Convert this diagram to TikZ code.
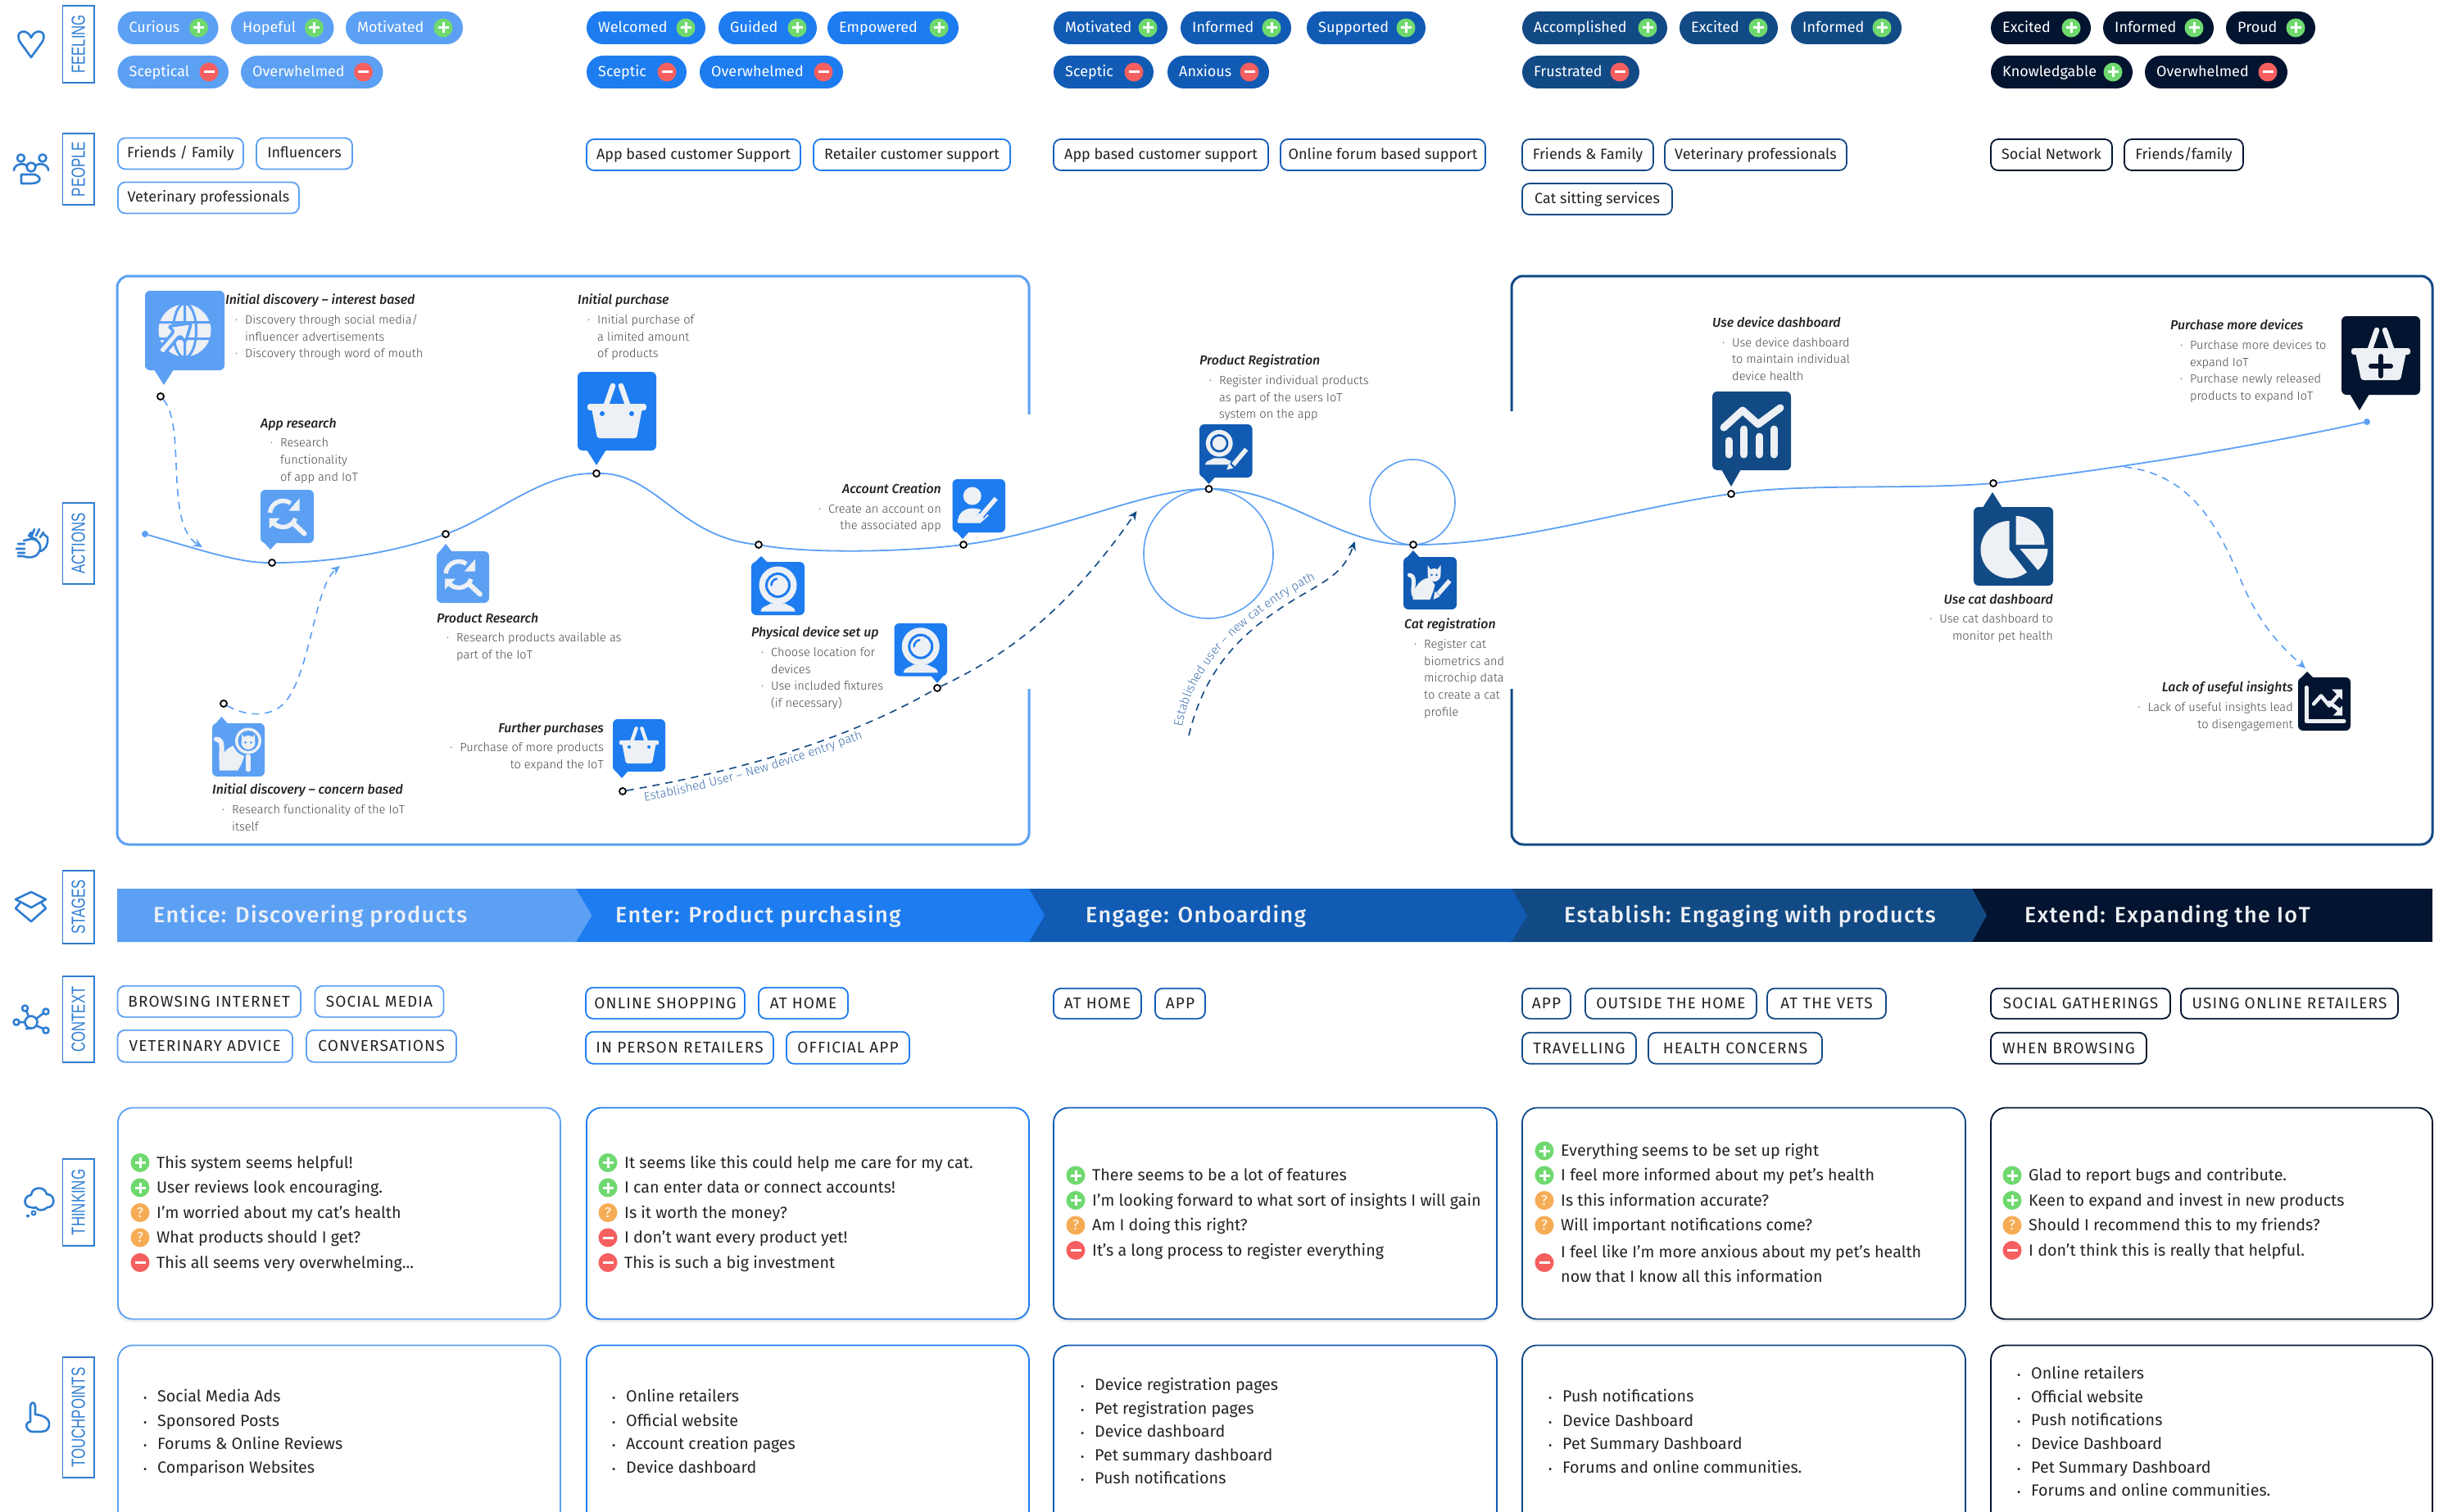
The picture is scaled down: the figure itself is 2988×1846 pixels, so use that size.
\documentclass[tikz,border=0pt]{standalone}
\usepackage{fontspec}
\usepackage{graphicx}
\setmainfont{Fira Sans}
\newfontfamily\lsans{Liberation Sans}
\newfontfamily\flight{Fira Sans Light}
\newfontfamily\fmedi{Fira Sans Medium Italic}
\newfontfamily\fmed{Fira Sans Medium}
\usetikzlibrary{arrows.meta,decorations.text,decorations.markings}
\definecolor{ca}{HTML}{5CA0F4}
\definecolor{cb}{HTML}{1D7CF0}
\definecolor{cc}{HTML}{115BB5}
\definecolor{cd}{HTML}{124A85}
\definecolor{ce}{HTML}{02142F}
\definecolor{ic}{HTML}{EDF0F4}
\definecolor{side}{HTML}{2F7DD1}
\definecolor{gp}{HTML}{6FD96F}
\definecolor{rm}{HTML}{F55F5F}
\definecolor{oq}{HTML}{F5AC55}
\definecolor{ink}{HTML}{222426}
\definecolor{body}{HTML}{46494C}
\definecolor{lbl}{HTML}{3F70AE}
\tikzset{
 fpill/.style={rectangle,rounded corners=20pt,minimum height=40pt,inner sep=0pt},
 ptext/.style={inner sep=0pt,text=white,font=\fontsize{18}{20}\selectfont,text height=15pt,text depth=3.5pt},
 signc/.style={circle,minimum size=23pt,inner sep=0pt},
 ptag/.style={rectangle,rounded corners=9pt,line width=1.8pt,fill=white,inner sep=0pt,text=ink,font=\fontsize{18}{20}\selectfont,text height=14pt,text depth=3.5pt},
 ctag/.style={ptag,font=\addfontfeature{LetterSpace=6}\fontsize{19}{20}\selectfont,text height=13pt,text depth=0pt},
 sidebox/.style={rectangle,draw=side,line width=1.8pt,minimum height=38.5pt,inner sep=0pt,text=side,font=\lsans\fontsize{16.8}{18}\selectfont},
 sico/.style={draw=side,line width=2.6pt,line cap=round,line join=round},
 iconb/.style={rectangle,rounded corners=6pt,inner sep=0pt},
 jt/.style={anchor=north west,align=left,inner sep=0pt,text=body,font=\flight\fontsize{14.6}{20.7}\selectfont},
 jr/.style={jt,anchor=north east,align=right},
 thk/.style={inner sep=0pt,anchor=west,text=ink,font=\fontsize{19.7}{30.7}\selectfont,text height=16pt,text depth=3pt},
 thkm/.style={inner sep=0pt,anchor=west,text=ink,font=\fontsize{19.7}{30.7}\selectfont,align=left},
 tbox/.style={rectangle,rounded corners=18pt,line width=1.8pt,fill=white,inner sep=0pt,preaction={draw=black!7,line width=2.5pt,transform canvas={yshift=-2.5pt}}},
 dotn/.style={circle,draw=black,fill=white,line width=1.8pt,minimum size=8pt,inner sep=0pt},
 enddot/.style={circle,fill=ca,minimum size=8pt,inner sep=0pt},
 dashl/.style={draw=ca,line width=1.6pt,dash pattern=on 9pt off 7pt},
 dashd/.style={draw=cd,line width=1.6pt,dash pattern=on 9pt off 7pt},
 tip/.style={-{Stealth[length=11pt,width=10pt]}},
 stg/.style={anchor=west,inner sep=0pt,text=ic,font=\fmed\addfontfeature{LetterSpace=5}\fontsize{27}{28}\selectfont,text height=21pt,text depth=3pt},
}
\newcommand\tii[1]{{\fmedi\color{ink}\fontsize{15.9}{20.7}\selectfont #1}}
\newcommand\BL[1]{\makebox[24pt][r]{·\hspace{9pt}}#1}
\newcommand\CL[1]{\hspace*{24pt}#1}
% sign marks
\newcommand\signp[3]{\node[signc,fill=gp] (#1) at (#2,#3) {};\draw[white,line width=3pt] ([xshift=-6.5pt]#1.center)--([xshift=6.5pt]#1.center) ([yshift=-6.5pt]#1.center)--([yshift=6.5pt]#1.center);}
\newcommand\signm[3]{\node[signc,fill=rm] (#1) at (#2,#3) {};\draw[white,line width=3pt] ([xshift=-6.5pt]#1.center)--([xshift=6.5pt]#1.center);}
\newcommand\signq[3]{\node[signc,fill=oq,text=white,font=\fontsize{17}{17}\selectfont] (#1) at (#2,#3) {?};}
\newcommand\feel[7]{\pgfmathsetmacro\pw{#3-#2}\pgfmathsetmacro\pc{(#2+#3)/2}%
 \node[fpill,fill=#5,minimum width=\pw pt] (#1) at (\pc,#4) {};
 \node[ptext,anchor=west] (#1t) at (#2+14,#4) {#6};
 \csname sign#7\endcsname{#1s}{#3-24}{#4}}
\newcommand\tagp[7]{\pgfmathsetmacro\pw{#3-#2}\pgfmathsetmacro\ph{#5-#4}\pgfmathsetmacro\pc{(#2+#3)/2}\pgfmathsetmacro\pd{(#4+#5)/2}%
 \node[ptag,draw=#6,minimum width=\pw pt,minimum height=\ph pt] (#1) at (\pc,\pd) {#7};}
\newcommand\tagc[7]{\pgfmathsetmacro\pw{#3-#2}\pgfmathsetmacro\ph{#5-#4}\pgfmathsetmacro\pc{(#2+#3)/2}\pgfmathsetmacro\pd{(#4+#5)/2+0.7}%
 \node[ctag,draw=#6,minimum width=\pw pt,minimum height=\ph pt] (#1) at (\pc,\pd) {#7};}
\newcommand\sidel[4]{\pgfmathsetmacro\pw{#3-#2}\pgfmathsetmacro\pd{(#2+#3)/2}%
 \node[sidebox,rotate=90,minimum width=\pw pt] (#1) at (95.7,\pd) {\scalebox{1}[1.38]{#4}};}
\newcommand\tkl[5]{\csname sign#4\endcsname{#1s}{#2}{#3}\node[thk] (#1) at (#2+20,#3) {#5};}
\newcommand\tpt[4]{\node[thk] (#1) at (#2-17,#3) {\makebox[17pt][l]{\fontsize{13}{13}\selectfont •}#4};}
\newcommand\bubble[8]{% name x0 y0 x1 y1 colour tipx tipy ; tail base half-width 1/8 of width
 \pgfmathsetmacro\pw{#4-#2}\pgfmathsetmacro\ph{#5-#3}\pgfmathsetmacro\pc{(#2+#4)/2}\pgfmathsetmacro\pd{(#3+#5)/2}\pgfmathsetmacro\hw{\pw/8}%
 \pgfmathsetmacro\by{#8<#3?#3+1:#5-1}%
 \fill[#6] (#7-\hw,\by)--(#7,#8)--(#7+\hw,\by)--cycle;
 \node[iconb,fill=#6,minimum width=\pw pt,minimum height=\ph pt] (#1) at (\pc,\pd) {};}
% ----- glyphs: #1 centre node, #2 scale, #3 box colour
\newcommand\icbasket[3]{\begin{scope}[shift={(#1)},scale=#2]
 \draw[ic,line width=#2*6.5pt,line cap=round] (-13,-8)--(-5,-31) (13,-8)--(5,-31);
 \fill[ic,rounded corners=#2*3pt] (-31,-4)--(31,-4)--(24,33)--(-24,33)--cycle;
 \fill[ic,rounded corners=#2*3pt] (-36,-9) rectangle (36,-1);
 \fill[#3] (-18,3) circle[radius=3] (18,3) circle[radius=3];
 \end{scope}}
\newcommand\icplusbasket[3]{\begin{scope}[shift={(#1)},scale=#2]
 \draw[ic,line width=#2*6.5pt,line cap=round] (-13,-8)--(-5,-31) (13,-8)--(5,-31);
 \fill[ic,rounded corners=#2*3pt] (-31,-4)--(31,-4)--(24,30)--(-24,30)--cycle;
 \fill[ic,rounded corners=#2*3pt] (-36,-9) rectangle (36,-1);
 \draw[#3,line width=#2*6pt,line cap=round] (0,1)--(0,25) (-12,13)--(12,13);
 \end{scope}}
\newcommand\icglobe[3]{\begin{scope}[shift={(#1)},scale=#2]
 \fill[ic] (0,0) circle[radius=32];
 \draw[#3,line width=#2*3pt] (0,0) ellipse[x radius=14,y radius=33] (0,-33)--(0,33) (-33,-10)--(33,-10) (-33,10)--(33,10);
 \fill[ic,draw=#3,line width=#2*3.5pt,rounded corners=#2*3pt,line join=round] (8,-9)--(1,14)--(-6,6)--(-26,30)--(-33,24)--(-13,1)--(-20,-5)--cycle;
 \end{scope}}
\newcommand\icrefresh[3]{\begin{scope}[shift={(#1)},scale=#2]
 \draw[ic,line width=#2*5.5pt] plot[domain=185:305,samples=12] ({-5+16*cos(\x)},{-3+16*sin(\x)});
 \draw[ic,line width=#2*5.5pt] plot[domain=20:150,samples=12] ({-5+16*cos(\x)},{-3+16*sin(\x)});
 \fill[ic] (15,-22)--(15,-7)--(2,-7)--cycle;
 \fill[ic] (-22,2)--(-22,15)--(-9,2)--cycle;
 \draw[ic,line width=#2*6pt,line cap=round] (8,9)--(21,21);
 \end{scope}}
\newcommand\iccam[3]{\begin{scope}[shift={(#1)},scale=#2]
 \fill[ic] (-21,28) .. controls (-21,22) and (-14,22) .. (-8,18) -- (8,18) .. controls (14,22) and (21,22) .. (21,28) -- cycle;
 \fill[ic] (0,-4) circle[radius=23];
 \draw[#3,line width=#2*3pt] (0,-4) circle[radius=14];
 \draw[#3,line width=#2*2.5pt,line cap=round] plot[domain=180:260,samples=8] ({8*cos(\x)},{-4+8*sin(\x)});
 \end{scope}}
\newcommand\penat[5]{\draw[#5,line width=9pt,line cap=round] (#1,#2)--(#3,#4);
 \draw[ic,line width=5.5pt] (#1,#2)--(#3,#4);}
\newcommand\icperson[3]{\begin{scope}[shift={(#1)},scale=#2]
 \fill[ic] (-8,-12) circle[radius=11];
 \fill[ic] (-26,21) .. controls (-26,8) and (-16,3) .. (-8,3) .. controls (0,3) and (8,6) .. (12,12) -- (2,21) -- cycle;
 \penat{21}{-9}{3}{12}{#3}
 \fill[ic] (0,9)--(6,15)--(-2,21)--(-4,18)--cycle;
 \end{scope}}
\newcommand\iccamreg[3]{\begin{scope}[shift={(#1)},scale=#2]
 \begin{scope}[shift={(-8,-6)},scale=.82]
 \fill[ic] (-21,28) .. controls (-21,22) and (-14,22) .. (-8,18) -- (8,18) .. controls (14,22) and (21,22) .. (21,28) -- cycle;
 \fill[ic] (0,-4) circle[radius=20];
 \draw[#3,line width=2.6pt] (0,-4) circle[radius=12];
 \end{scope}
 \penat{25}{-2}{9}{17}{#3}
 \fill[ic] (4,15)--(9,21)--(1,23)--cycle;
 \end{scope}}
\newcommand\iccatlook[3]{\begin{scope}[shift={(#1)},scale=#2]
 \draw[ic,line width=6pt,line cap=round] (-27,-13) .. controls (-15,-13) and (-24,8) .. (-19,20);
 \fill[ic] (-23,25) .. controls (-26,8) and (-12,-8) .. (3,-6) -- (8,5) .. controls (5,14) and (3,20) .. (-1,25) -- cycle;
 \fill[#3] (12,-11) circle[radius=19];
 \fill[ic] (12,-11) circle[radius=16];
 \fill[#3] (12,-11) circle[radius=12.5];
 \fill[ic] (12,-9) circle[radius=8.5];
 \fill[ic] (4,-19)--(9,-13)--(4,-11)--cycle (20,-19)--(15,-13)--(20,-11)--cycle;
 \fill[#3] (8.5,-9) circle[radius=1.6] (15.5,-9) circle[radius=1.6];
 \draw[ic,line width=6pt,line cap=round] (12,8)--(12,24);
 \end{scope}}
\newcommand\iccatreg[3]{\begin{scope}[shift={(#1)},scale=#2]
 \draw[ic,line width=5pt,line cap=round] (-25,-10) .. controls (-15,-8) and (-24,8) .. (-19,16);
 \fill[ic] (-21,20) .. controls (-22,6) and (-10,-8) .. (0,-6) -- (6,2) .. controls (4,10) and (2,15) .. (0,20) -- cycle;
 \fill[ic] (5,-10) circle[radius=8];
 \fill[ic] (-3,-22)--(2,-15)--(-3,-12)--cycle (13,-22)--(8,-15)--(13,-12)--cycle;
 \fill[#3] (2,-10) circle[radius=1.4] (8,-10) circle[radius=1.4];
 \penat{24}{-3}{10}{13}{#3}
 \fill[ic] (6,10)--(12,16)--(4,20)--cycle;
 \end{scope}}
\newcommand\icbars[3]{\begin{scope}[shift={(#1)},scale=#2]
 \draw[ic,line width=9pt,line cap=round,line join=round] (-34,-4)--(-11,-25)--(8,-8)--(35,-28);
 \draw[ic,line width=9pt,line cap=round] (-28,12)--(-28,29) (-9.5,-2)--(-9.5,29) (9.5,7)--(9.5,29) (27,-2)--(27,29);
 \end{scope}}
\newcommand\icpie[3]{\begin{scope}[shift={(#1)},scale=#2]
 \fill[ic] (-5,4)--plot[domain=-90:-308,samples=36] ({-5+35*cos(\x)},{4+35*sin(\x)})--cycle;
 \fill[ic] (3,-2)--plot[domain=-90:0,samples=16] ({3+35*cos(\x)},{-2+35*sin(\x)})--cycle;
 \fill[ic] (8,3)--plot[domain=0:50,samples=10] ({8+34*cos(\x)},{3+34*sin(\x)})--cycle;
 \end{scope}}
\newcommand\icdown[3]{\begin{scope}[shift={(#1)},scale=#2]
 \draw[ic,line width=5pt,line cap=round,line join=round] (-22,-20)--(-22,21)--(24,21);
 \draw[ic,line width=4.5pt,line cap=round,line join=round] (-13,0)--(-4,-10)--(6,2)--(19,-13);
 \draw[ic,line width=4.5pt,line cap=round] (6,-2)--(19,8);
 \fill[ic] (9,-18)--(22,-18)--(22,-5)--cycle (22,2)--(22,14)--(11,14)--cycle;
 \end{scope}}
\begin{document}
\begin{tikzpicture}[x=1pt,y=-1pt]
\useasboundingbox (0,0) rectangle (2988,1846);
% side labels
\sidel{sf}{7}{101}{FEELING}
\sidel{sp}{163}{250}{PEOPLE}
\sidel{sa}{614}{713}{ACTIONS}
\sidel{ss}{1063}{1152}{STAGES}
\sidel{sc}{1192}{1297}{CONTEXT}
\sidel{st}{1415}{1521}{THINKING}
\sidel{su}{1657}{1804}{TOUCHPOINTS}
% side icons
\draw[sico] (38,70)--(25,52) .. controls (16,38) and (33,33) .. (38,46) .. controls (43,33) and (60,38) .. (51,52)--cycle;
\draw[sico] (25.5,193) circle[radius=4.5] (52,193) circle[radius=4.5] (38,204) circle[radius=5.5];
\draw[sico] (17,208) .. controls (17,200) and (30,198) .. (33,203) (59,208) .. controls (59,200) and (46,198) .. (43,203);
\draw[sico] (26,213)--(26,224)--(38,224) .. controls (50,224) and (52,216) .. (42,213)--cycle;
\draw[sico] (29,660)--(38,658) .. controls (48,658) and (52,668) .. (47,675) .. controls (43,682) and (34,681) .. (28,679)--(22,679) (22,664)--(30,664) (20,670)--(30,670) (22,675)--(30,675);
\draw[sico] (35,654)--(38,650) (38,656)--(42,646) (44,654)--(48,646) (49,656)--(53,650) (53,652)--(58,656) .. controls (59,665) and (56,670) .. (50,673) (35,654)--(45,659);
\draw[sico] (38,1089)--(56,1098)--(38,1108)--(19,1098)--cycle (24,1103)--(19,1109)--(38,1125)--(56,1109)--(51,1103);
\draw[sico] (38,1248) circle[radius=7.5] (30.5,1231) circle[radius=3.5] (56,1235) circle[radius=3.5] (20,1248) circle[radius=3.5] (56,1258) circle[radius=3.5];
\draw[sico] (32,1234)--(35,1241) (53,1237)--(44,1244) (24,1248)--(30,1248) (53,1256)--(44,1252) (32,1256)--(38,1255);
\draw[sico] (38,1474) .. controls (28,1474) and (28,1460) .. (38,1459) .. controls (39,1448) and (55,1448) .. (57,1458) .. controls (68,1458) and (68,1474) .. (58,1474) .. controls (53,1479) and (45,1478) .. (44,1474) .. controls (42,1475) and (40,1475) .. (38,1474)--cycle;
\draw[side,line width=2pt] (41,1481) circle[radius=2.4];
\fill[side] (34,1484.5) circle[radius=2];
\draw[sico] (37,1736)--(37,1717) .. controls (37,1711) and (43,1711) .. (43,1717)--(43,1727) .. controls (48,1727) and (60,1730) .. (60,1738) .. controls (60,1748) and (54,1748) .. (46,1748)--(40,1748) .. controls (32,1748) and (29,1736) .. (37,1736);
% Feeling
\feel{f11}{143.5}{266.5}{34}{ca}{Curious}{p}
\feel{f12}{282}{407.5}{34}{ca}{Hopeful}{p}
\feel{f13}{422}{565}{34}{ca}{Motivated}{p}
\feel{f14}{143.5}{279}{88}{ca}{Sceptical}{m}
\feel{f15}{294}{467.5}{88}{ca}{Overwhelmed}{m}
\feel{f21}{716}{861}{34}{cb}{Welcomed}{p}
\feel{f22}{877}{997}{34}{cb}{Guided}{p}
\feel{f23}{1010}{1170}{34}{cb}{Empowered}{p}
\feel{f24}{716}{838}{88}{cb}{Sceptic}{m}
\feel{f25}{854}{1029}{88}{cb}{Overwhelmed}{m}
\feel{f31}{1286}{1425}{34}{cc}{Motivated}{p}
\feel{f32}{1441}{1576}{34}{cc}{Informed}{p}
\feel{f33}{1595}{1740}{34}{cc}{Supported}{p}
\feel{f34}{1286}{1408}{88}{cc}{Sceptic}{m}
\feel{f35}{1425}{1549}{88}{cc}{Anxious}{m}
\feel{f41}{1858}{2035}{34}{cd}{Accomplished}{p}
\feel{f42}{2050}{2170}{34}{cd}{Excited}{p}
\feel{f43}{2186}{2321}{34}{cd}{Informed}{p}
\feel{f44}{1858}{2001}{88}{cd}{Frustrated}{m}
\feel{f51}{2430}{2552}{34}{ce}{Excited}{p}
\feel{f52}{2567}{2702}{34}{ce}{Informed}{p}
\feel{f53}{2717}{2826}{34}{ce}{Proud}{p}
\feel{f54}{2430}{2603}{88}{ce}{Knowledgable}{p}
\feel{f55}{2618}{2792}{88}{ce}{Overwhelmed}{m}
% People
\tagp{p11}{144}{297}{168.5}{206.5}{ca}{Friends / Family}
\tagp{p12}{313}{430}{168.5}{206.5}{ca}{Influencers}
\tagp{p13}{144}{365}{222.5}{260.5}{ca}{Veterinary professionals}
\tagp{p21}{716}{977}{170}{208}{cb}{App based customer Support}
\tagp{p22}{993}{1233}{170}{208}{cb}{Retailer customer support}
\tagp{p31}{1286}{1548}{170}{208}{cc}{App based customer support}
\tagp{p32}{1563}{1813}{170}{208}{cc}{Online forum based support}
\tagp{p41}{1858}{2018}{170}{208}{cd}{Friends \& Family}
\tagp{p42}{2032}{2254}{170}{208}{cd}{Veterinary professionals}
\tagp{p43}{1858}{2041}{224}{262}{cd}{Cat sitting services}
\tagp{p51}{2430}{2578}{170}{208}{ce}{Social Network}
\tagp{p52}{2593}{2738}{170}{208}{ce}{Friends/family}
% action frames
\draw[ca,line width=3pt,rounded corners=14pt] (1256,506)--(1256,337)--(143,337)--(143,1031)--(1256,1031)--(1256,841);
\draw[cd,line width=3pt,rounded corners=14pt] (1845,502)--(1845,337)--(2969,337)--(2969,1031)--(1845,1031)--(1845,841);
% loops
\node[circle,draw=ca,line width=1.6pt,minimum size=158pt,inner sep=0pt] (loopa) at (1475,676) {};
\node[circle,draw=ca,line width=1.6pt,minimum size=104pt,inner sep=0pt] (loopb) at (1724,613) {};
% dots
\node[enddot] (js) at (177,652) {};
\node[enddot] (je) at (2889,515) {};
\node[dotn] (j1) at (332,687) {};
\node[dotn] (j2) at (544,652) {};
\node[dotn] (j3) at (728,578) {};
\node[dotn] (j4) at (926,665) {};
\node[dotn] (j5) at (1176,665) {};
\node[dotn] (j6) at (1475.5,597) {};
\node[dotn] (j7) at (1725,665) {};
\node[dotn] (j8) at (2113,603) {};
\node[dotn] (j9) at (2433,590) {};
\node[dotn] (d1) at (196,484) {};
\node[dotn] (d2) at (273,859) {};
\node[dotn] (d3) at (760,966) {};
\node[dotn] (d4) at (1144,840) {};
% journey
\draw[ca,line width=1.8pt] (js) .. controls (240,670) and (290,687) .. (j1) .. controls (400,687) and (480,675) .. (j2) .. controls (600,632) and (660,578) .. (j3) .. controls (800,578) and (830,655) .. (j4) .. controls (980,675) and (1090,675) .. (j5) .. controls (1290,650) and (1400,597) .. (j6) .. controls (1570,597) and (1630,665) .. (j7) .. controls (1850,665) and (1990,620) .. (j8) .. controls (2200,590) and (2330,598) .. (j9) .. controls (2600,570) and (2750,545) .. (je);
% dashed paths
\coordinate (t1) at (247,668);
\coordinate (t2) at (415,691);
\coordinate (t3) at (1387.5,624);
\coordinate (s4) at (1451,898);
\coordinate (m4) at (1578,733);
\coordinate (t4) at (1653.6,661);
\coordinate (s5) at (2593,570);
\coordinate (m5) at (2738,715);
\coordinate (t5) at (2814,816);
\draw[dashl,tip] (d1) .. controls (228,520) and (200,640) .. (t1);
\draw[dashl,tip] (d2) .. controls (300,875) and (335,878) .. (352,852) .. controls (380,810) and (385,715) .. (t2);
\draw[dashd] (d3) .. controls (880,945) and (1020,911) .. (d4);
\draw[dashd,tip] (d4) .. controls (1240,795) and (1310,735) .. (t3);
\draw[dashd,tip] (s4) .. controls (1470,820) and (1510,775) .. (m4) .. controls (1620,708) and (1640,700) .. (t4);
\draw[dashl,tip] (s5) .. controls (2680,580) and (2710,650) .. (m5) .. controls (2760,765) and (2785,790) .. (t5);
\coordinate (la) at (787,978);
\coordinate (lb) at (1052,902);
\coordinate (lc) at (1443,888);
\coordinate (ld) at (1614,703);
\path[postaction={decorate,decoration={text along path,text color=lbl,text={|\flight\fontsize{15}{16}\selectfont|Established User – New device entry path}}}] (la) .. controls (880,962) and (970,932) .. (lb);
\path[postaction={decorate,decoration={text along path,text color=lbl,text={|\flight\fontsize{15}{16}\selectfont|Established user – new cat entry path}}}] (lc) .. controls (1456,808) and (1525,748) .. (ld);
% icon bubbles
\bubble{b1}{177}{355}{274}{452}{ca}{200}{470}\icglobe{b1}{1}{ca}
\bubble{b2}{318}{598}{383}{663}{ca}{330}{671}\icrefresh{b2}{1}{ca}
\bubble{b3}{533}{673}{597}{736}{ca}{544}{664}\icrefresh{b3}{1}{ca}
\bubble{b4}{705}{454}{801}{550}{cb}{728}{568}\icbasket{b4}{1}{cb}
\bubble{b5}{259}{883}{323}{948}{ca}{270.5}{875}\iccatlook{b5}{1}{ca}
\bubble{b6}{748}{878}{812}{942}{cb}{759}{950}\icbasket{b6}{.67}{cb}
\bubble{b7}{917}{686}{982}{751}{cb}{929}{679}\iccam{b7}{1}{cb}
\bubble{b8}{1091.5}{761}{1156}{825.5}{cb}{1144}{834}\iccam{b8}{1}{cb}
\bubble{b9}{1162.5}{585}{1227}{650}{cb}{1175}{658}\icperson{b9}{1}{cb}
\bubble{b10}{1464}{518}{1528.5}{583}{cc}{1475.5}{591}\iccamreg{b10}{1}{cc}
\bubble{b11}{1713}{680}{1778}{744}{cc}{1725}{672}\iccatreg{b11}{1}{cc}
\bubble{b12}{2090}{478}{2186}{574}{cd}{2113}{594}\icbars{b12}{1}{cd}
\bubble{b13}{2409}{619}{2506}{715}{cd}{2432}{601}\icpie{b13}{1}{cd}
\bubble{b14}{2858}{386}{2954}{482}{ce}{2880}{501}\icplusbasket{b14}{1}{ce}
\bubble{b15}{2805}{827}{2869}{892}{ce}{2816}{820}\icdown{b15}{1}{ce}
% action notes
\node[jt] (n1) at (275,359) {\tii{Initial discovery – interest based}\\[3pt]\BL{Discovery through social media/}\\\CL{influencer advertisements}\\\BL{Discovery through word of mouth}};
\node[jt] (n2) at (318,510) {\tii{App research}\\[3pt]\BL{Research}\\\CL{functionality}\\\CL{of app and IoT}};
\node[jt] (n3) at (533,748) {\tii{Product Research}\\[3pt]\BL{Research products available as}\\\CL{part of the IoT}};
\node[jt] (n4) at (705,359) {\tii{Initial purchase}\\[3pt]\BL{Initial purchase of}\\\CL{a limited amount}\\\CL{of products}};
\node[jt] (n5) at (259,957) {\tii{Initial discovery – concern based}\\[3pt]\BL{Research functionality of the IoT}\\\CL{itself}};
\node[jr] (n6) at (737,882) {\tii{Further purchases}\\[3pt]·\hspace{9pt}Purchase of more products\\to expand the IoT};
\node[jt] (n7) at (917,765) {\tii{Physical device set up}\\[3pt]\BL{Choose location for}\\\CL{devices}\\\BL{Use included fixtures}\\\CL{(if necessary)}};
\node[jr] (n8) at (1149,589.5) {\tii{Account Creation}\\[3pt]·\hspace{9pt}Create an account on\\the associated app};
\node[jt] (n9) at (1464,433) {\tii{Product Registration}\\[3pt]\BL{Register individual products}\\\CL{as part of the users IoT}\\\CL{system on the app}};
\node[jt] (n10) at (1714,755) {\tii{Cat registration}\\[3pt]\BL{Register cat}\\\CL{biometrics and}\\\CL{microchip data}\\\CL{to create a cat}\\\CL{profile}};
\node[jt] (n11) at (2090,386.5) {\tii{Use device dashboard}\\[3pt]\BL{Use device dashboard}\\\CL{to maintain individual}\\\CL{device health}};
\node[jt] (n12) at (2649,390) {\tii{Purchase more devices}\\[3pt]\BL{Purchase more devices to}\\\CL{expand IoT}\\\BL{Purchase newly released}\\\CL{products to expand IoT}};
\node[jr] (n13) at (2506,725) {\tii{Use cat dashboard}\\[3pt]·\hspace{9pt}Use cat dashboard to\\monitor pet health};
\node[jr] (n14) at (2799,832) {\tii{Lack of useful insights}\\[3pt]·\hspace{9pt}Lack of useful insights lead\\to disengagement};
% stages
\fill[ce] (2400,1085)--(2969,1085)--(2969,1150)--(2400,1150)--cycle;
\fill[cd] (1840,1085)--(2407,1085)--(2425,1117.5)--(2407,1150)--(1840,1150)--cycle;
\fill[cc] (1250,1085)--(1845,1085)--(1864,1117.5)--(1845,1150)--(1250,1150)--cycle;
\fill[cb] (700,1085)--(1256,1085)--(1275,1117.5)--(1256,1150)--(700,1150)--cycle;
\fill[ca] (143,1085)--(703,1085)--(722.5,1117.5)--(703,1150)--(143,1150)--cycle;
\node[stg] (g1) at (187,1117.5) {Entice: Discovering products};
\node[stg] (g2) at (751,1117.5) {Enter: Product purchasing};
\node[stg] (g3) at (1325,1117.5) {Engage: Onboarding};
\node[stg] (g4) at (1909,1117.5) {Establish: Engaging with products};
\node[stg] (g5) at (2471,1117.5) {Extend: Expanding the IoT};
% context
\tagc{c11}{143.5}{367}{1203}{1241}{ca}{BROWSING INTERNET}
\tagc{c12}{384.5}{541.5}{1203}{1241}{ca}{SOCIAL MEDIA}
\tagc{c13}{143.5}{357}{1257}{1296}{ca}{VETERINARY ADVICE}
\tagc{c14}{374}{557}{1257}{1296}{ca}{CONVERSATIONS}
\tagc{c21}{715}{909}{1205}{1243}{cb}{ONLINE SHOPPING}
\tagc{c22}{926}{1035}{1205}{1243}{cb}{AT HOME}
\tagc{c23}{715}{944}{1259}{1298}{cb}{IN PERSON RETAILERS}
\tagc{c24}{960}{1110}{1259}{1298}{cb}{OFFICIAL APP}
\tagc{c31}{1286}{1393}{1206}{1243}{cc}{AT HOME}
\tagc{c32}{1410}{1471}{1206}{1243}{cc}{APP}
\tagc{c41}{1858}{1917}{1206}{1243}{cd}{APP}
\tagc{c42}{1935}{2144}{1206}{1243}{cd}{OUTSIDE THE HOME}
\tagc{c43}{2157}{2302}{1206}{1243}{cd}{AT THE VETS}
\tagc{c44}{1858}{1997}{1260}{1298}{cd}{TRAVELLING}
\tagc{c45}{2012}{2224}{1260}{1298}{cd}{HEALTH CONCERNS}
\tagc{c51}{2430}{2649}{1206}{1243}{ce}{SOCIAL GATHERINGS}
\tagc{c52}{2662}{2927}{1206}{1243}{ce}{USING ONLINE RETAILERS}
\tagc{c53}{2430}{2620}{1260}{1298}{ce}{WHEN BROWSING}
% thinking boxes
\node[tbox,draw=ca,minimum width=540pt,minimum height=258pt] (k1) at (414,1481.5) {};
\node[tbox,draw=cb,minimum width=540pt,minimum height=258pt] (k2) at (986,1481.5) {};
\node[tbox,draw=cc,minimum width=541pt,minimum height=258pt] (k3) at (1556.5,1481.5) {};
\node[tbox,draw=cd,minimum width=541pt,minimum height=258pt] (k4) at (2128.5,1481.5) {};
\node[tbox,draw=ce,minimum width=539pt,minimum height=258pt] (k5) at (2699.5,1481.5) {};
\begin{scope}
\clip (0,1620) rectangle (2988,1846);
\node[tbox,draw=ca,minimum width=540pt,minimum height=400pt] (u1) at (414,1842.5) {};
\node[tbox,draw=cb,minimum width=540pt,minimum height=400pt] (u2) at (986,1842.5) {};
\node[tbox,draw=cc,minimum width=541pt,minimum height=400pt] (u3) at (1556.5,1842.5) {};
\node[tbox,draw=cd,minimum width=541pt,minimum height=400pt] (u4) at (2128.5,1842.5) {};
\node[tbox,draw=ce,minimum width=539pt,minimum height=400pt] (u5) at (2699.5,1842.5) {};
\end{scope}
% thinking text
\tkl{k11}{171}{1419.5}{p}{This system seems helpful!}
\tkl{k12}{171}{1450}{p}{User reviews look encouraging.}
\tkl{k13}{171}{1480.5}{q}{I’m worried about my cat’s health}
\tkl{k14}{171}{1511}{q}{What products should I get?}
\tkl{k15}{171}{1541.5}{m}{This all seems very overwhelming...}
\tkl{k21}{742}{1419.5}{p}{It seems like this could help me care for my cat.}
\tkl{k22}{742}{1450}{p}{I can enter data or connect accounts!}
\tkl{k23}{742}{1480.5}{q}{Is it worth the money?}
\tkl{k24}{742}{1511}{m}{I don’t want every product yet!}
\tkl{k25}{742}{1541.5}{m}{This is such a big investment}
\tkl{k31}{1313}{1435}{p}{There seems to be a lot of features}
\tkl{k32}{1313}{1465.5}{p}{I’m looking forward to what sort of insights I will gain}
\tkl{k33}{1313}{1496}{q}{Am I doing this right?}
\tkl{k34}{1313}{1526.5}{m}{It’s a long process to register everything}
\tkl{k41}{1885}{1405}{p}{Everything seems to be set up right}
\tkl{k42}{1885}{1435}{p}{I feel more informed about my pet’s health}
\tkl{k43}{1885}{1465.5}{q}{Is this information accurate?}
\tkl{k44}{1885}{1496}{q}{Will important notifications come?}
\signm{k45s}{1885}{1541.5}
\node[thkm] (k45) at (1905,1543) {I feel like I’m more anxious about my pet’s health\\now that I know all this information};
\tkl{k51}{2456}{1435}{p}{Glad to report bugs and contribute.}
\tkl{k52}{2456}{1465.5}{p}{Keen to expand and invest in new products}
\tkl{k53}{2456}{1496}{q}{Should I recommend this to my friends?}
\tkl{k54}{2456}{1526.5}{m}{I don’t think this is really that helpful.}
% touchpoints
\tpt{u11}{192}{1705}{Social Media Ads}
\tpt{u12}{192}{1734.5}{Sponsored Posts}
\tpt{u13}{192}{1763}{Forums \& Online Reviews}
\tpt{u14}{192}{1791.5}{Comparison Websites}
\tpt{u21}{764}{1705}{Online retailers}
\tpt{u22}{764}{1734.5}{Official website}
\tpt{u23}{764}{1763}{Account creation pages}
\tpt{u24}{764}{1791.5}{Device dashboard}
\tpt{u31}{1336}{1691}{Device registration pages}
\tpt{u32}{1336}{1719.5}{Pet registration pages}
\tpt{u33}{1336}{1748}{Device dashboard}
\tpt{u34}{1336}{1777}{Pet summary dashboard}
\tpt{u35}{1336}{1805}{Push notifications}
\tpt{u41}{1907}{1705}{Push notifications}
\tpt{u42}{1907}{1734.5}{Device Dashboard}
\tpt{u43}{1907}{1763}{Pet Summary Dashboard}
\tpt{u44}{1907}{1791.5}{Forums and online communities.}
\tpt{u51}{2479}{1677}{Online retailers}
\tpt{u52}{2479}{1705.5}{Official website}
\tpt{u53}{2479}{1734}{Push notifications}
\tpt{u54}{2479}{1763}{Device Dashboard}
\tpt{u55}{2479}{1791.5}{Pet Summary Dashboard}
\tpt{u56}{2479}{1820}{Forums and online communities.}
\end{tikzpicture}
\end{document}
